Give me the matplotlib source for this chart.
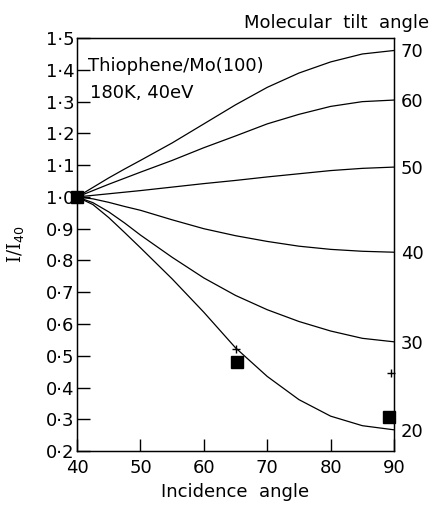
#!/usr/bin/env python3
"""NEXAFS intensity ratio vs incidence angle for thiophene on Mo(100)."""

import matplotlib

matplotlib.use("Agg")
import matplotlib.pyplot as plt

plt.rcParams["font.family"] = ["DejaVu Sans"]

# incidence angle (deg) at which the curves were read
incidence = [40, 42.5, 45, 47.5, 50, 55, 60, 65, 70, 75, 80, 85, 90]

# calculated I/I40 for each molecular tilt angle
curve_70 = [1.000, 1.030, 1.060, 1.088, 1.115, 1.170, 1.230, 1.290, 1.345, 1.390, 1.425, 1.450, 1.461]
curve_60 = [1.000, 1.020, 1.040, 1.059, 1.078, 1.115, 1.155, 1.192, 1.230, 1.260, 1.285, 1.300, 1.305]
curve_50 = [1.000, 1.005, 1.010, 1.015, 1.020, 1.031, 1.042, 1.052, 1.063, 1.073, 1.083, 1.090, 1.094]
curve_40 = [1.000, 0.994, 0.983, 0.970, 0.958, 0.928, 0.900, 0.878, 0.860, 0.845, 0.835, 0.829, 0.826]
curve_30 = [1.000, 0.982, 0.953, 0.918, 0.880, 0.810, 0.745, 0.690, 0.645, 0.608, 0.578, 0.555, 0.544]
curve_20 = [1.000, 0.976, 0.935, 0.888, 0.840, 0.742, 0.637, 0.525, 0.435, 0.362, 0.310, 0.280, 0.267]
tilt_labels = ["70", "60", "50", "40", "30", "20"]

# measured points
square_x = [40, 65.3, 89.2]
square_y = [1.0, 0.479, 0.307]
cross_x = [65.1, 89.6]
cross_y = [0.52, 0.447]

yticks = [0.2, 0.3, 0.4, 0.5, 0.6, 0.7, 0.8, 0.9, 1.0, 1.1, 1.2, 1.3, 1.4, 1.5]
ytick_labels = [f"{v:.1f}".replace(".", "\u00b7") for v in yticks]
xticks = [40, 50, 60, 70, 80, 90]

fig = plt.figure(figsize=(4.33, 5.08), dpi=100)
ax = fig.add_axes([0.178, 0.112, 0.732, 0.813])

curves = [curve_70, curve_60, curve_50, curve_40, curve_30, curve_20]
for values in curves:
    ax.plot(incidence, values, color="black", linewidth=0.9, solid_joinstyle="round")

ax.plot(square_x, square_y, linestyle="none", marker="s", markersize=8,
        color="black", clip_on=False, zorder=5)
ax.plot(cross_x, cross_y, linestyle="none", marker="+", markersize=6,
        markeredgewidth=1.0, color="black", clip_on=False, zorder=5)

ax.set_xlim(40, 90)
ax.set_ylim(0.2, 1.5)
ax.set_xticks(xticks)
ax.set_yticks(yticks)
ax.set_yticklabels(ytick_labels)
ax.tick_params(axis="both", direction="in", length=9, width=1.0,
               labelsize=13, color="black")
ax.tick_params(axis="x", pad=6)
ax.tick_params(axis="y", pad=2)
for spine in ax.spines.values():
    spine.set_linewidth(1.0)

ax2 = ax.twinx()
ax2.set_ylim(ax.get_ylim())
ax2.set_yticks([c[-1] for c in curves])
ax2.set_yticklabels(tilt_labels)
ax2.tick_params(axis="y", length=0, pad=5, labelsize=13)

ax.set_xlabel("Incidence  angle", fontsize=13, labelpad=4)
ax.set_ylabel("I/I$_{40}$", fontsize=13, family="DejaVu Serif", labelpad=14)
fig.text(0.99, 0.955, "Molecular  tilt  angle", ha="right", va="center", fontsize=13)
ax.text(0.035, 0.955, "Thiophene/Mo(100)", transform=ax.transAxes,
        ha="left", va="top", fontsize=13)
ax.text(0.04, 0.89, "180K, 40eV", transform=ax.transAxes,
        ha="left", va="top", fontsize=13)

fig.savefig("out.png", dpi=100)
